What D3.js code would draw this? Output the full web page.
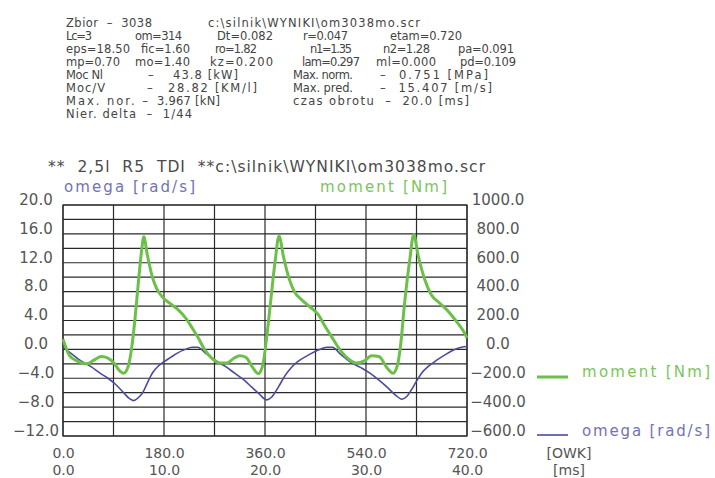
<!DOCTYPE html>
<html>
<head>
<meta charset="utf-8">
<script src="https://cdn.jsdelivr.net/npm/d3@7"></script>
<style>
  html, body { margin: 0; padding: 0; background: #fff; }
  svg { display: block; }
  svg text { font-family: "DejaVu Sans", sans-serif; }
</style>
</head>
<body>
<svg id="chart" width="715" height="478"></svg>
<script>
// Crank angle [deg] and torque [Nm]
const momentDeg = [0, 12, 25, 42, 55, 68, 80, 92, 100, 108, 116, 122, 128, 134, 140, 144, 150, 158, 167, 178, 190, 205, 218, 230, 241,
  253, 265, 280, 292, 305, 315, 326, 338, 348, 356, 362, 370, 378, 385, 393, 403, 413, 425, 440, 455, 467, 480,
  495, 510, 523, 537, 550, 563, 578, 588, 596, 602, 608, 618, 625, 633, 645, 656, 670, 685, 700, 713, 720];
const momentNm = [70, -45, -80, -100, -75, -50, -60, -100, -145, -165, -120, 0, 200, 450, 680, 780, 660, 520, 420, 360, 320, 275, 220, 150, 80,
  -5, -60, -95, -95, -60, -45, -55, -125, -168, -110, 50, 330, 610, 785, 640, 490, 395, 345, 295, 240, 160, 80,
  -10, -70, -95, -80, -45, -50, -130, -165, -110, 40, 290, 620, 795, 650, 480, 380, 325, 270, 200, 130, 80];

// Crank angle [deg] and angular speed [rad/s]
const omegaDeg = [0, 15, 30, 50, 66, 80, 93, 107, 118, 126, 134, 142, 150, 160, 170, 180, 192, 203, 218, 230, 240,
  255, 271, 290, 306, 322, 336, 350, 363, 372, 384, 396, 407, 420, 437, 455, 470, 480,
  495, 511, 530, 547, 562, 577, 592, 604, 613, 621, 630, 639, 652, 666, 680, 696, 710, 720];
const omegaVal = [0.3, -0.6, -1.5, -2.4, -3.3, -4.0, -4.8, -5.9, -6.8, -7.1, -6.7, -6.0, -4.7, -3.2, -2.3, -1.7, -1.1, -0.55, 0.0, 0.3, 0.3,
  -0.6, -1.5, -2.4, -3.3, -4.2, -5.2, -6.2, -7.0, -6.6, -5.2, -3.6, -2.5, -1.6, -0.8, -0.1, 0.3, 0.3,
  -0.7, -1.7, -2.5, -3.3, -4.2, -5.2, -6.3, -6.9, -6.5, -5.6, -4.4, -3.3, -2.3, -1.5, -0.8, -0.1, 0.3, 0.4];

// Axis tick labels
const leftTicks = [-12, -8, -4, 0, 4, 8, 12, 16, 20];
const rightTicks = [-600, -400, -200, 0, 200, 400, 600, 800, 1000];
const degTicks = [0, 180, 360, 540, 720];
const msTicks = [0, 10, 20, 30, 40];

// Header block text, row by row
const headerText = [
  ["Zbior  \u2013  3038", "c:\\silnik\\WYNIKI\\om3038mo.scr"],
  ["Lc=3", "om=314", "Dt=0.082", "r=0.047", "etam=0.720"],
  ["eps=18.50", "fic=1.60", "ro=1.82", "n1=1.35", "n2=1.28", "pa=0.091"],
  ["mp=0.70", "mo=1.40", "kz=0.200", "lam=0.297", "ml=0.000", "pd=0.109"],
  ["Moc Nl", "\u2013", "43.8 [kW]", "Max. norm.", "\u2013  0.751 [MPa]"],
  ["Moc/V", "\u2013", "28.82 [KM/l]", "Max. pred.", "\u2013  15.407 [m/s]"],
  ["Max. nor. \u2013", "3.967 [kN]", "czas obrotu  \u2013  20.0 [ms]"],
  ["Nier. delta  \u2013  1/44"]
];
// Header layout: [left x, text length] for each entry above
const headerLayout = [
  [[66, 86], [208, 212]],
  [[66, 26], [135, 47], [217, 56], [303, 45], [390, 72]],
  [[66, 64], [141, 49], [215, 42], [310, 42], [383, 47], [458, 56]],
  [[66, 54], [135, 55], [210, 63], [302, 58], [376, 60], [460, 56]],
  [[66, 37], [148, 7], [173, 65], [293, 60], [380, 108]],
  [[66, 39], [147, 7], [168, 89], [293, 60], [380, 112]],
  [[66, 82], [157, 63], [293, 176]],
  [[66, 126]]
];

const GREEN = "#6cc04a";
const BLUE = "#4b4b9c";
const GREEN_TXT = "#7cc45e";
const BLUE_TXT = "#7272b4";
const GRID = "#2a2a2a";
const LABEL = "#555";

const svg = d3.select("#chart");

const plotL = 63, plotR = 467, plotT = 205, plotB = 436;
const x = d3.scaleLinear().domain([0, 720]).range([plotL, plotR]);
const xMs = d3.scaleLinear().domain([0, 40]).range([plotL, plotR]);
const yL = d3.scaleLinear().domain([-12, 20]).range([plotB, plotT]);
const yR = d3.scaleLinear().domain([-600, 1000]).range([plotB, plotT]);

// Header
const header = svg.append("g").attr("font-size", 11.5).attr("fill", "#444");
headerText.forEach((row, i) => {
  row.forEach((t, j) => {
    const [px, len] = headerLayout[i][j];
    const el = header.append("text").attr("x", px).attr("y", 26.5 + i * 13.1)
      .style("white-space", "pre").text(t);
    if (len > 10) el.attr("textLength", len).attr("lengthAdjust", "spacing");
  });
});

// Title
svg.append("text").attr("x", 48).attr("y", 172).attr("font-size", 15.5).attr("fill", "#4a4a4a")
  .attr("textLength", 437).attr("lengthAdjust", "spacing")
  .style("white-space", "pre").text("**  2,5l  R5  TDI  **c:\\silnik\\WYNIKI\\om3038mo.scr");

// Axis titles
svg.append("text").attr("x", 64).attr("y", 192).attr("font-size", 15).attr("fill", BLUE_TXT)
  .attr("textLength", 131).attr("lengthAdjust", "spacing").text("omega [rad/s]");
svg.append("text").attr("x", 320).attr("y", 192).attr("font-size", 15).attr("fill", GREEN_TXT)
  .attr("textLength", 127).attr("lengthAdjust", "spacing").text("moment [Nm]");

// Grid
const grid = svg.append("g").attr("stroke", GRID).attr("stroke-width", 1.2).attr("fill", "none");
grid.selectAll("line.h").data(d3.range(-12, 20.01, 2)).join("line").attr("class", "h")
  .attr("x1", plotL).attr("x2", plotR).attr("y1", d => yL(d)).attr("y2", d => yL(d));
grid.selectAll("line.v").data(d3.range(0, 720.01, 90)).join("line").attr("class", "v")
  .attr("y1", plotT).attr("y2", plotB).attr("x1", d => x(d)).attr("x2", d => x(d));
grid.append("rect").attr("x", plotL).attr("y", plotT).attr("width", plotR - plotL).attr("height", plotB - plotT);

const fmt = d => d3.format(".1f")(d).replace("-", "\u2212");

// Left axis labels
const axL = svg.append("g").attr("transform", `translate(${plotL},0)`)
  .call(d3.axisLeft(yL).tickValues(leftTicks).tickSize(0).tickFormat(fmt));
axL.select(".domain").remove();
axL.selectAll("text").attr("x", -27).attr("dy", "-0.05em").attr("text-anchor", "middle")
  .attr("font-size", 15).attr("fill", LABEL);

// Right axis labels
const axR = svg.append("g").attr("transform", `translate(${plotR},0)`)
  .call(d3.axisRight(yR).tickValues(rightTicks).tickSize(0).tickFormat(fmt));
axR.select(".domain").remove();
axR.selectAll("text").attr("x", 31).attr("dy", "-0.05em").attr("text-anchor", "middle")
  .attr("font-size", 15).attr("fill", LABEL);

// Bottom axis labels: crank angle and time
const axB1 = svg.append("g").attr("transform", `translate(0,${plotB})`)
  .call(d3.axisBottom(x).tickValues(degTicks).tickSize(0).tickFormat(d3.format(".1f")));
axB1.select(".domain").remove();
axB1.selectAll("text").attr("y", 22).attr("dy", null)
  .attr("font-size", 14).attr("fill", LABEL);
const axB2 = svg.append("g").attr("transform", `translate(0,${plotB})`)
  .call(d3.axisBottom(xMs).tickValues(msTicks).tickSize(0).tickFormat(d3.format(".1f")));
axB2.select(".domain").remove();
axB2.selectAll("text").attr("y", 39).attr("dy", null)
  .attr("font-size", 14).attr("fill", LABEL);
svg.append("text").attr("x", 569).attr("y", 458).attr("text-anchor", "middle").attr("font-size", 14).attr("fill", LABEL).text("[OWK]");
svg.append("text").attr("x", 569).attr("y", 475).attr("text-anchor", "middle").attr("font-size", 14).attr("fill", LABEL).text("[ms]");

// Series
svg.append("path")
  .attr("d", d3.line().curve(d3.curveMonotoneX).x(d => x(d[0])).y(d => yL(d[1]))(omegaDeg.map((d, i) => [d, omegaVal[i]])))
  .attr("fill", "none").attr("stroke", BLUE).attr("stroke-width", 1.6);
svg.append("path")
  .attr("d", d3.line().curve(d3.curveMonotoneX).x(d => x(d[0])).y(d => yR(d[1]))(momentDeg.map((d, i) => [d, momentNm[i]])))
  .attr("fill", "none").attr("stroke", GREEN).attr("stroke-width", 3).attr("stroke-linejoin", "round");

// Legend
svg.append("line").attr("x1", 537).attr("x2", 568).attr("y1", 377).attr("y2", 377).attr("stroke", GREEN).attr("stroke-width", 3);
svg.append("text").attr("x", 582).attr("y", 377).attr("font-size", 15).attr("fill", GREEN_TXT)
  .attr("textLength", 128).attr("lengthAdjust", "spacing").text("moment [Nm]");
svg.append("line").attr("x1", 537).attr("x2", 568).attr("y1", 435).attr("y2", 435).attr("stroke", BLUE).attr("stroke-width", 1.6);
svg.append("text").attr("x", 582).attr("y", 436).attr("font-size", 15).attr("fill", BLUE_TXT)
  .attr("textLength", 128).attr("lengthAdjust", "spacing").text("omega [rad/s]");
</script>
</body>
</html>
